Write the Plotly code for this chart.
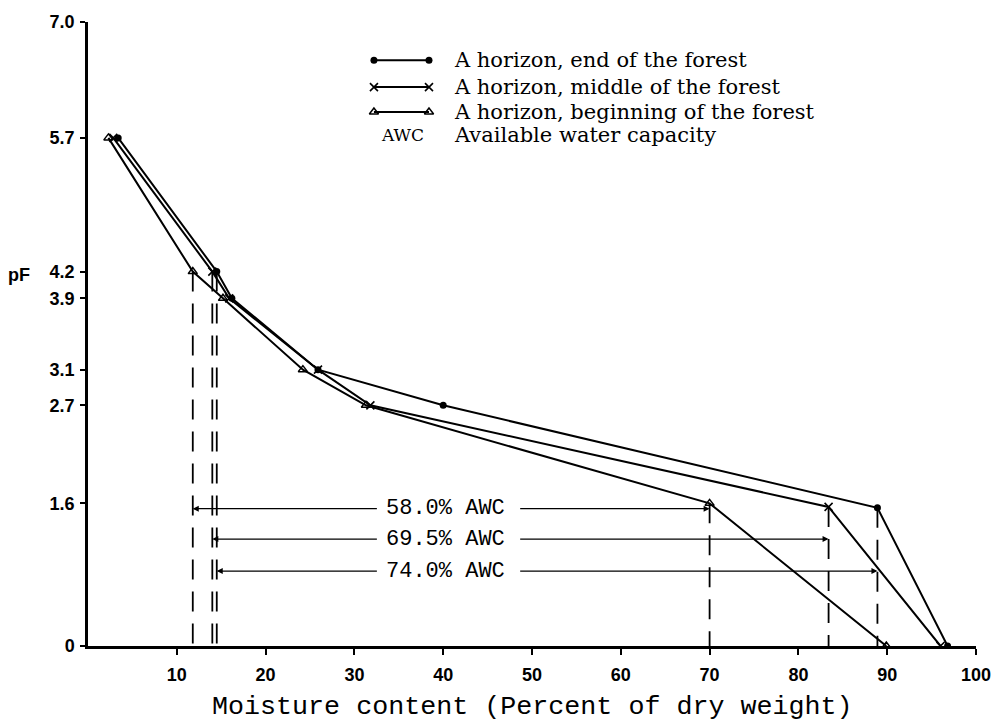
import plotly.graph_objects as go

# ---- data ----
pf_ticks = [0, 1.6, 2.7, 3.1, 3.9, 4.2, 5.7, 7.0]
pf_labels = ["0", "1.6", "2.7", "3.1", "3.9", "4.2", "5.7", "7.0"]
x_ticks = [10, 20, 30, 40, 50, 60, 70, 80, 90, 100]
x_labels = [str(v) for v in x_ticks]

end_x = [3.4, 14.5, 16.2, 25.9, 40.0, 88.9, 96.8]
end_y = [5.7, 4.2, 3.9, 3.1, 2.7, 1.55, 0]
mid_x = [2.85, 14.0, 15.9, 25.9, 31.8, 83.4, 96.0]
mid_y = [5.7, 4.2, 3.9, 3.1, 2.7, 1.56, 0]
beg_x = [2.3, 11.8, 15.2, 24.2, 31.3, 70.0, 89.9]
beg_y = [5.7, 4.2, 3.9, 3.1, 2.7, 1.6, 0]

series_names = ["A horizon, end of the forest",
                "A horizon, middle of the forest",
                "A horizon, beginning of the forest"]

awc_labels = ["58.0% AWC", "69.5% AWC", "74.0% AWC"]
awc_levels = [1.54, 1.20, 0.84]
awc_label_x = 40.3

# ---- styles ----
BLACK = "black"
SERIF = "DejaVu Serif, Liberation Serif, serif"
markers = [
    dict(symbol="circle", size=7, color=BLACK),
    dict(symbol="x-thin", size=8, color=BLACK, line=dict(color=BLACK, width=1.6)),
    dict(symbol="triangle-up-open", size=8, color=BLACK, line=dict(color=BLACK, width=1.5)),
]
series = [(end_x, end_y), (mid_x, mid_y), (beg_x, beg_y)]
LO, HI = 1, 5  # indices of the pF 4.2 and pF 1.6 points

fig = go.Figure()

# dashed verticals at the AWC limits
for sx, sy in series:
    for i in (LO, HI):
        fig.add_trace(go.Scatter(x=[sx[i], sx[i]], y=[sy[i], 0], mode="lines",
                                 line=dict(color=BLACK, width=1.8, dash="20px,12px"),
                                 showlegend=False, hoverinfo="skip"))

# curves
for (sx, sy), mk, nm in zip(series, markers, series_names):
    fig.add_trace(go.Scatter(x=sx, y=sy, mode="lines+markers", name=nm,
                             line=dict(color=BLACK, width=2), marker=mk,
                             showlegend=False))

# custom legend (line with a marker at both ends)
leg_x0, leg_x1, leg_tx = 32.2, 38.4, 41.0
leg_rows = [6.57, 6.27, 5.99]
for row, mk, nm in zip(leg_rows, markers, series_names):
    fig.add_trace(go.Scatter(x=[leg_x0, leg_x1], y=[row, row], mode="lines+markers",
                             line=dict(color=BLACK, width=2), marker=mk,
                             showlegend=False, hoverinfo="skip"))
    fig.add_annotation(x=leg_tx, y=row, text=nm, showarrow=False, xanchor="left",
                       yanchor="middle",
                       font=dict(family=SERIF, size=21, color=BLACK))
fig.add_annotation(x=35.4, y=5.73, text="AWC", showarrow=False, xanchor="center",
                   yanchor="middle", font=dict(family=SERIF, size=17, color=BLACK))
fig.add_annotation(x=leg_tx, y=5.73, text="Available water capacity", showarrow=False,
                   xanchor="left", yanchor="middle",
                   font=dict(family=SERIF, size=21, color=BLACK))

# AWC arrows and labels (beginning, middle, end order)
awc_series = [series[2], series[1], series[0]]
gap_l, gap_r = 7.6, 8.2
for (sx, sy), lab, lvl in zip(awc_series, awc_labels, awc_levels):
    fig.add_annotation(x=sx[LO], y=lvl, ax=awc_label_x - gap_l, ay=lvl,
                       xref="x", yref="y", axref="x", ayref="y", text="",
                       showarrow=True, arrowhead=2, arrowsize=1, arrowwidth=1.2,
                       arrowcolor=BLACK, standoff=0)
    fig.add_annotation(x=sx[HI], y=lvl, ax=awc_label_x + gap_r, ay=lvl,
                       xref="x", yref="y", axref="x", ayref="y", text="",
                       showarrow=True, arrowhead=2, arrowsize=1, arrowwidth=1.2,
                       arrowcolor=BLACK, standoff=0)
    fig.add_annotation(x=awc_label_x, y=lvl, text=lab, showarrow=False,
                       xanchor="center", yanchor="middle",
                       font=dict(family="Liberation Mono", size=22, color=BLACK))

# axis titles
fig.add_annotation(xref="paper", yref="y", x=0, y=4.16, xshift=-69, text="pF",
                   showarrow=False, xanchor="center", yanchor="middle",
                   font=dict(family="Liberation Sans", size=18, color=BLACK, weight="bold"))
fig.add_annotation(xref="paper", yref="paper", x=0.5, y=0, yshift=-61,
                   text="Moisture content (Percent of dry weight)", showarrow=False,
                   xanchor="center", yanchor="middle",
                   font=dict(family="Liberation Mono", size=26.7, color=BLACK))

tickfont = dict(family="Liberation Sans", size=18, color=BLACK, weight="bold")
fig.update_layout(
    width=1003, height=722,
    margin=dict(l=88, r=24, t=17, b=76),
    paper_bgcolor="white", plot_bgcolor="white",
    showlegend=False,
    xaxis=dict(range=[0, 100], tickvals=x_ticks, ticktext=x_labels,
               showgrid=False, zeroline=False, showline=True, linecolor=BLACK,
               linewidth=2.5, ticks="outside", ticklen=6, tickwidth=1.5,
               tickcolor=BLACK, tickfont=tickfont, ticklabelstandoff=5),
    yaxis=dict(range=[0, 7], tickvals=pf_ticks, ticktext=pf_labels,
               showgrid=False, zeroline=False, showline=True, linecolor=BLACK,
               linewidth=2.5, ticks="outside", ticklen=5, tickwidth=1.5,
               tickcolor=BLACK, tickfont=tickfont, ticklabelstandoff=2),
)

fig.write_html("out.html", config={"displayModeBar": False},
               post_script="document.body.style.margin='0';document.body.style.overflow='hidden';")
